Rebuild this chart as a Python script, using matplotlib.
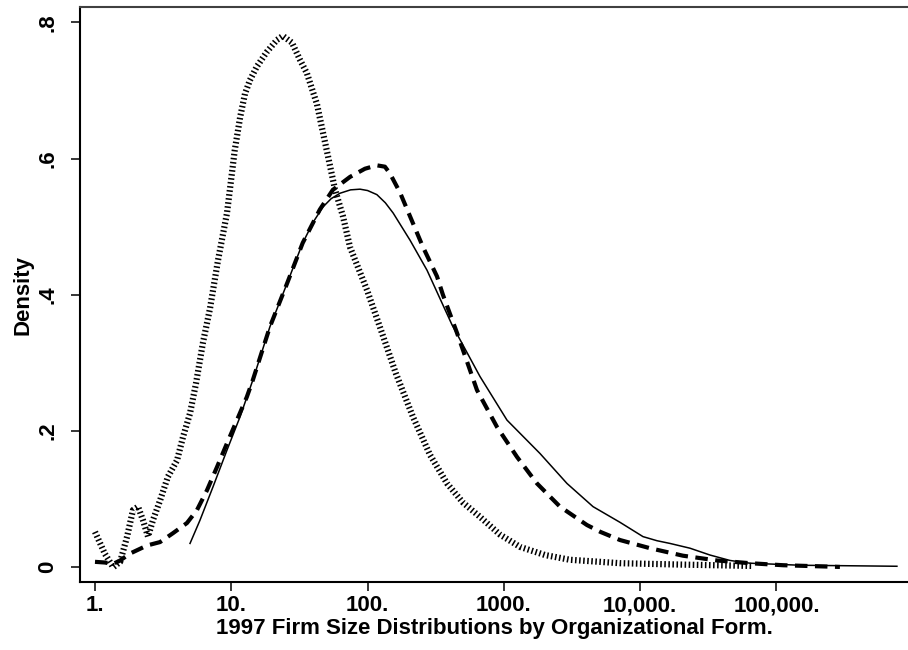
import matplotlib
matplotlib.use("Agg")
import matplotlib.pyplot as plt

# firm size (employees) and density
dotted_x = [1.0, 1.18, 1.36, 1.53, 1.72, 1.90, 2.07, 2.25, 2.45, 2.66, 3.0, 3.43, 4.0,
            4.42, 4.98, 5.51, 6.2, 6.98, 7.98, 9.3, 10.6, 11.6, 12.6, 13.7, 15.4, 18.3, 21.6,
            23.9, 27.9, 31.9, 35.9, 42.5, 50.4, 57.6, 66.0, 74.3, 99, 123, 161, 215,
            287, 383, 501, 668, 936, 1312, 2003, 3055, 7110, 19600, 66100]
dotted_y = [0.052, 0.02, 0.0, 0.008, 0.045, 0.084, 0.089, 0.069, 0.045, 0.069, 0.098,
            0.133, 0.157, 0.191, 0.226, 0.27, 0.33, 0.38, 0.45, 0.52, 0.612, 0.66, 0.695,
            0.715, 0.735, 0.757, 0.774, 0.78, 0.77, 0.745, 0.725, 0.68, 0.61, 0.555, 0.515,
            0.47, 0.407, 0.353, 0.285, 0.221, 0.165, 0.123, 0.095, 0.074, 0.048, 0.03,
            0.018, 0.011, 0.006, 0.004, 0.002]

dashed_x = [1.0, 1.18, 1.36, 1.53, 1.80, 2.41, 3.0, 3.73, 4.73, 5.60, 6.63, 7.85, 9.3,
            11.0, 13.0, 14.4, 19.2, 25.7, 33.4, 44.6, 55.6, 74.3, 95.6, 117, 134, 146,
            173, 205, 255, 323, 357, 453, 635, 890, 1248, 1750, 2580, 4070, 5100, 7110,
            11800, 20600, 36600, 63900, 112000, 292000]
dashed_y = [0.008, 0.007, 0.005, 0.01, 0.02, 0.032, 0.037, 0.05, 0.065, 0.084, 0.113,
            0.147, 0.182, 0.216, 0.25, 0.275, 0.353, 0.417, 0.476, 0.525, 0.554, 0.573,
            0.585, 0.59, 0.588, 0.578, 0.55, 0.515, 0.47, 0.427, 0.40, 0.344, 0.26, 0.206,
            0.162, 0.123, 0.089, 0.062, 0.052, 0.04, 0.028, 0.017, 0.01, 0.006, 0.003,
            0.0005]

solid_x = [4.98, 5.89, 7.34, 9.3, 11.6, 14.4, 19.2, 25.7, 33.4, 40.0, 47.1, 54.0, 62.7,
           75.0, 88, 100, 117, 135, 154, 205, 273, 416, 668, 1054, 1841, 2905, 4510, 7110,
           10490, 13280, 16550, 23200, 32500, 45600, 63900, 148700, 765000]
solid_y = [0.035, 0.069, 0.118, 0.172, 0.221, 0.275, 0.353, 0.417, 0.476, 0.507, 0.529,
           0.541, 0.549, 0.554, 0.555, 0.553, 0.547, 0.535, 0.52, 0.48, 0.436, 0.356,
           0.28, 0.216, 0.167, 0.123, 0.089, 0.066, 0.045, 0.039, 0.035, 0.028, 0.018,
           0.01, 0.006, 0.003, 0.0015]

xticks = [1, 10, 100, 1000, 10000, 100000]
xtick_labels = ["1.", "10.", "100.", "1000.", "10,000.", "100,000."]
yticks = [0, 0.2, 0.4, 0.6, 0.8]
ytick_labels = ["0", ".2", ".4", ".6", ".8"]

plt.rcParams['font.family'] = ['Liberation Sans', 'DejaVu Sans']
plt.rcParams['font.weight'] = 'bold'
plt.rcParams['axes.labelweight'] = 'bold'
plt.rcParams['font.size'] = 16

fig = plt.figure(figsize=(9.08, 6.5), dpi=100)
ax = fig.add_axes([80 / 908, 68 / 650, 1 - 80 / 908, 575 / 650])

ax.plot(dotted_x, dotted_y, color='black', linewidth=4.5,
        linestyle=(0, (0.25, 0.4)), dash_capstyle='butt')
ax.plot(dashed_x, dashed_y, color='black', linewidth=3,
        linestyle=(0, (3, 1.8)), dash_capstyle='butt')
ax.plot(solid_x, solid_y, color='black', linewidth=1.1)

ax.set_xscale('log')
ax.set_xlim(10 ** -0.110, 10 ** 5.965)
ax.set_ylim(-0.0216, 0.8224)
ax.minorticks_off()
ax.set_xticks(xticks)
ax.set_xticklabels(xtick_labels)
ax.set_yticks(yticks)
ax.set_yticklabels(ytick_labels, rotation=90, va='center')

ax.tick_params(axis='both', length=6.5, width=1.1, color='black')
ax.tick_params(axis='x', pad=3)
ax.tick_params(axis='y', pad=9)

ax.spines['right'].set_visible(False)
for side in ['left', 'bottom']:
    ax.spines[side].set_linewidth(1.5)
    ax.spines[side].set_color('black')
ax.spines['top'].set_linewidth(1.5)
ax.spines['top'].set_color('#404040')

ax.set_xlabel('1997 Firm Size Distributions by Organizational Form.', labelpad=1)
ax.set_ylabel('Density', labelpad=3)

plt.savefig('out.png', dpi=100)
